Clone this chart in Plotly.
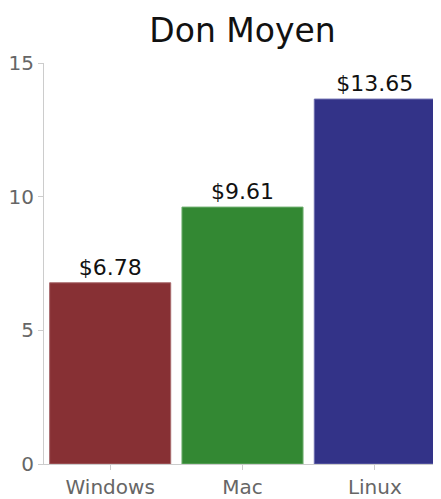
import plotly.graph_objects as go

categories = ["Windows", "Mac", "Linux"]
values = [6.78, 9.61, 13.65]
labels = ["$6.78", "$9.61", "$13.65"]
colors = ["#873034", "#338833", "#333388"]
line_colors = ["#a86a6d", "#6fae6f", "#6b6bae"]

FONT = "DejaVu Sans, Liberation Sans, Arial, sans-serif"

fig = go.Figure(go.Bar(
    x=categories, y=values, text=labels, textposition="outside",
    marker=dict(color=colors, line=dict(color=line_colors, width=1)),
    textfont=dict(size=22, color="#111", family=FONT), cliponaxis=False,
))
# page body has an 8px margin, so the figure is sized to end at the window edge
fig.update_layout(
    width=433, height=491,
    margin=dict(l=36, r=0, t=55, b=32),
    paper_bgcolor="white", plot_bgcolor="white",
    font=dict(family=FONT),
    title=dict(text="Don Moyen", x=0.5, xref="paper", xanchor="center", y=0.955, yanchor="middle",
               font=dict(size=33, color="#111", family=FONT)),
    bargap=0.085, showlegend=False,
)
fig.update_yaxes(range=[0, 15], tickvals=[0, 5, 10, 15], showgrid=False, zeroline=False,
                 showline=True, linecolor="#cccccc", linewidth=1, ticks="outside",
                 ticklen=5, tickcolor="#cccccc", tickfont=dict(size=20, color="#666"))
fig.update_xaxes(showgrid=False, showline=True, linecolor="#cccccc", linewidth=1,
                 ticks="outside", ticklen=5, tickcolor="#cccccc",
                 tickfont=dict(size=20, color="#666"))
fig.write_html("out.html")
